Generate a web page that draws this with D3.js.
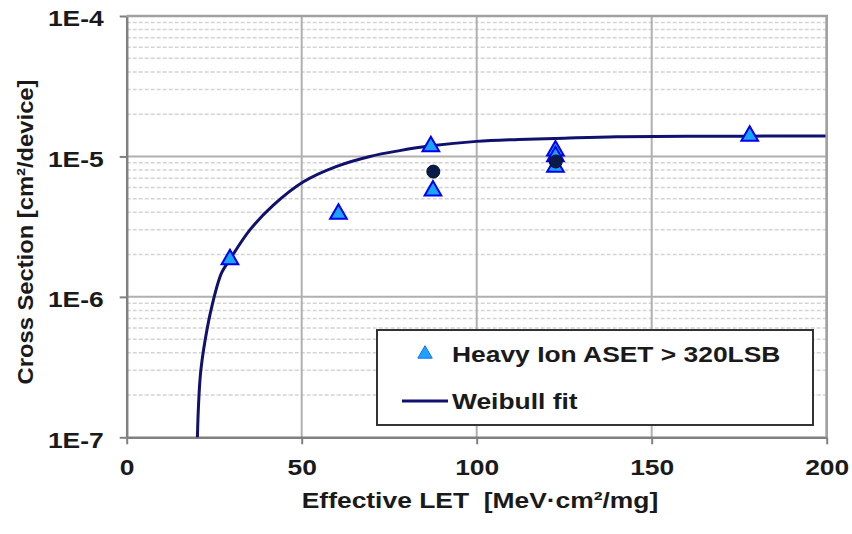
<!DOCTYPE html>
<html>
<head>
<meta charset="utf-8">
<script src="https://cdn.jsdelivr.net/npm/d3@7"></script>
<style>
  body { margin: 0; background: #fff; }
  text { font-family: "Liberation Sans", Arial, sans-serif; font-weight: bold; fill: #1a1a1a; white-space: pre; }
</style>
</head>
<body>
<script>
// heavy ion data (LET, cross section)
const ionLET = [29.5, 60.5, 86.9, 87.5, 122.5, 122.5, 122.5, 178];
const ionSigma = [1.85e-6, 3.9e-6, 1.18e-5, 5.7e-6, 1.1e-5, 1.0e-5, 8.4e-6, 1.4e-5];
// dark circle points (not in legend)
const dotLET = [87.6, 122.6];
const dotSigma = [7.8e-6, 9.2e-6];
// Weibull fit curve
const fitLET = [20.2, 20.5, 21.1, 22.4, 24.3, 27.1, 29.5, 35.2, 41.9, 50.5, 60, 69.5, 78, 87, 100, 112, 125, 140, 160, 200];
const fitSigma = [1.0e-7, 1.65e-7, 2.86e-7, 4.9e-7, 8.5e-7, 1.48e-6, 1.85e-6, 3.0e-6, 4.5e-6, 6.6e-6, 8.5e-6, 1.0e-5, 1.1e-5, 1.19e-5, 1.28e-5, 1.32e-5, 1.35e-5, 1.38e-5, 1.39e-5, 1.4e-5];
const xTicks = [0, 50, 100, 150, 200];
const yTicks = [1e-7, 1e-6, 1e-5, 1e-4];
const legendLabels = ["Heavy Ion ASET > 320LSB", "Weibull fit"];

const width = 852;
const height = 534;
const stretch = 1.2;

const svg = d3.select("body")
    .append("svg")
    .attr("width", width)
    .attr("height", height);

const x = d3.scaleLinear().domain([0, 200]).range([126.7, 826.7]);
const y = d3.scaleLog().domain([1e-7, 1e-4]).range([437.3, 16]);

// widen text like the original
const widen = sel => sel.each(function () {
    const w = this.getComputedTextLength();
    d3.select(this).attr("textLength", w * stretch).attr("lengthAdjust", "spacingAndGlyphs");
});

// minor gridlines
const minors = [];
for (let e = -7; e < -4; e++)
    for (let m = 2; m <= 9; m++) minors.push(m * Math.pow(10, e));
svg.append("g")
    .selectAll("line")
    .data(minors)
    .join("line")
    .attr("x1", x(0)).attr("x2", x(200))
    .attr("y1", d => y(d)).attr("y2", d => y(d))
    .attr("stroke", "#d4d4d4")
    .attr("stroke-width", 1.5)
    .attr("stroke-dasharray", "4,2");

// major gridlines
svg.append("g")
    .selectAll("line")
    .data(yTicks.slice(1))
    .join("line")
    .attr("x1", x(0)).attr("x2", x(200))
    .attr("y1", d => y(d)).attr("y2", d => y(d))
    .attr("stroke", "#b0b0b0")
    .attr("stroke-width", 2);
svg.append("g")
    .selectAll("line")
    .data(xTicks.slice(1))
    .join("line")
    .attr("x1", d => x(d)).attr("x2", d => x(d))
    .attr("y1", y(1e-4)).attr("y2", y(1e-7))
    .attr("stroke", "#b0b0b0")
    .attr("stroke-width", 2);

// axes
const xAxis = svg.append("g")
    .attr("transform", `translate(0,${y(1e-7)})`)
    .call(d3.axisBottom(x).tickValues(xTicks).tickSize(7).tickSizeOuter(0));
const yAxis = svg.append("g")
    .attr("transform", `translate(${x(0)},0)`)
    .call(d3.axisLeft(y).tickValues(yTicks).tickSize(7).tickSizeOuter(0)
        .tickFormat(d => "1E" + Math.round(Math.log10(d))));
[xAxis, yAxis].forEach(a => {
    a.select(".domain").attr("stroke", "#808080").attr("stroke-width", 2.5);
    a.selectAll(".tick line").attr("stroke", "#808080").attr("stroke-width", 2);
    a.selectAll(".tick text")
        .attr("font-size", 22)
        .attr("font-family", "Liberation Sans, Arial, sans-serif")
        .attr("fill", "#1a1a1a")
        .call(widen);
});
xAxis.selectAll(".tick text").attr("y", 22);
yAxis.selectAll(".tick text").attr("x", -23).attr("dy", "0.45em");

svg.append("text")
    .attr("x", 480)
    .attr("y", 508)
    .attr("text-anchor", "middle")
    .attr("font-size", 22)
    .text("Effective LET  [MeV·cm²/mg]")
    .call(widen);

svg.append("text")
    .attr("transform", "translate(33,232) rotate(-90)")
    .attr("text-anchor", "middle")
    .attr("font-size", 22)
    .text("Cross Section [cm²/device]")
    .call(sel => sel.attr("textLength", 305).attr("lengthAdjust", "spacingAndGlyphs"));

// fit curve
const line = d3.line()
    .x((d, i) => x(fitLET[i]))
    .y((d, i) => y(fitSigma[i]))
    .curve(d3.curveCatmullRom.alpha(0.5));
svg.append("path")
    .datum(fitLET)
    .attr("d", line)
    .attr("fill", "none")
    .attr("stroke", "#10106e")
    .attr("stroke-width", 3);

// triangles
const tri = d3.symbol().type(d3.symbolTriangle).size(120);
svg.append("g")
    .selectAll("path")
    .data(ionLET)
    .join("path")
    .attr("d", tri)
    .attr("transform", (d, i) => `translate(${x(d)},${y(ionSigma[i])})`)
    .attr("fill", "#1aa3ff")
    .attr("stroke", "#0000ee")
    .attr("stroke-width", 2);

// dark circles
svg.append("g")
    .selectAll("circle")
    .data(dotLET)
    .join("circle")
    .attr("cx", d => x(d))
    .attr("cy", (d, i) => y(dotSigma[i]))
    .attr("r", 6.5)
    .attr("fill", "#0c1a4a")
    .attr("stroke", "#07102e")
    .attr("stroke-width", 1);

// top and right border
svg.append("path")
    .attr("d", `M${x(0)},${y(1e-4)}H${x(200)}V${y(1e-7)}`)
    .attr("fill", "none")
    .attr("stroke", "#a0a0a0")
    .attr("stroke-width", 2.5);

// legend
const legend = svg.append("g").attr("id", "legend");
legend.append("rect")
    .attr("x", 377).attr("y", 330)
    .attr("width", 436).attr("height", 95)
    .attr("fill", "#fff")
    .attr("stroke", "#333")
    .attr("stroke-width", 2);
legend.append("path")
    .attr("d", d3.symbol().type(d3.symbolTriangle).size(90))
    .attr("transform", "translate(425,354)")
    .attr("fill", "#1aa3ff")
    .attr("stroke", "#1a6cff")
    .attr("stroke-width", 1);
legend.append("line")
    .attr("x1", 402).attr("x2", 448)
    .attr("y1", 401).attr("y2", 401)
    .attr("stroke", "#10106e")
    .attr("stroke-width", 3);
legend.selectAll("text")
    .data(legendLabels)
    .join("text")
    .attr("x", 452)
    .attr("y", (d, i) => 362 + i * 47)
    .attr("font-size", 22)
    .text(d => d)
    .call(widen);
</script>
</body>
</html>
